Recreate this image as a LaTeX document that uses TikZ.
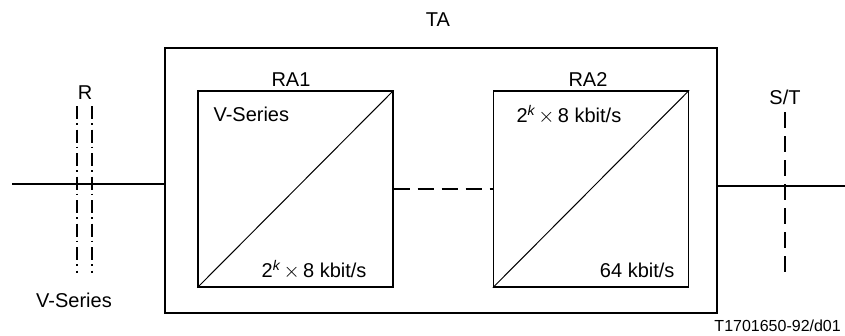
\documentclass[tikz,border=0pt]{standalone}
\usepackage{fontspec}
\setmainfont{Liberation Sans}
\usetikzlibrary{positioning,calc}

\begin{document}
\begin{tikzpicture}[
    x=1pt, y=-1pt,
    font=\fontsize{20}{24}\selectfont,
    frame/.style={rectangle, draw, line width=1.3pt, inner sep=0pt},
    rabox/.style={rectangle, draw, line width=1.3pt, inner sep=0pt, minimum width=195pt, minimum height=196pt},
    wire/.style={line width=2pt},
    refline/.style={line width=1.6pt, dash pattern=on 16pt off 8pt},
    rline/.style={line width=1.6pt, dash pattern=on 13pt off 4pt on 1.5pt off 5pt},
]
    \useasboundingbox (0,0) rectangle (845,335);

    \node[frame, minimum width=552pt, minimum height=265pt] (ta) at (441,180.5) {};
    \node (talabel) at (438,20) {TA};

    \node[rabox] (ra1) at (295.5,189) {};
    \node[rabox] (ra2) at (591,189) {};
    \draw[line width=1pt] (ra1.south west) -- (ra1.north east);
    \draw[line width=1pt] (ra2.south west) -- (ra2.north east);
    \node (ra1label) at (291,80) {RA1};
    \node (ra2label) at (588,80) {RA2};

    \node[anchor=west] (ra1in) at (210,114) {V-Series};
    \node[anchor=east] (ra1out) at (370,270) {2\textsuperscript{\itshape k}\,$\times$\,8 kbit/s};
    \node[anchor=west] (ra2in) at (513,115) {2\textsuperscript{\itshape k}\,$\times$\,8 kbit/s};
    \node[anchor=east] (ra2out) at (678,270) {64 kbit/s};

    \draw[refline] (ra1.east) -- (ra2.west);

    % R reference point
    \coordinate (rin) at (12,184);
    \draw[wire] (rin) -- (rin -| ta.west);
    \foreach \xr in {77,92} {
        \draw[rline] (\xr,106) -- (\xr,273);
    }
    \node (rlabel) at (85,93) {R};
    \node (vseries) at (74,300) {V-Series};

    % S/T reference point
    \coordinate (stout) at (845,186);
    \draw[wire] (stout -| ta.east) -- (stout);
    \node (stlabel) at (785,97) {S/T};
    \draw[refline] (stlabel.south |- 0,112) -- (stlabel.south |- 0,273);

    \node[anchor=east, inner sep=0pt, font=\fontsize{16}{19}\selectfont] (figref) at (841,326) {T1701650-92/d01};
\end{tikzpicture}
\end{document}
